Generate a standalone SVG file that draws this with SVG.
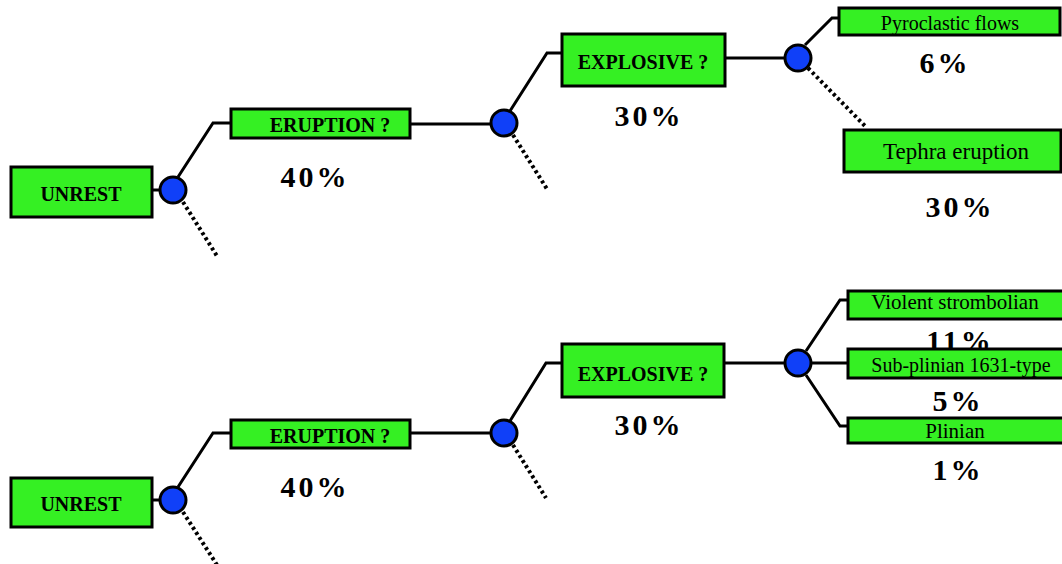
<svg xmlns="http://www.w3.org/2000/svg" width="1062" height="564" viewBox="0 0 1062 564">
  <style>
    .box { fill: #35f023; stroke: #000; stroke-width: 3; }
    .chance { fill: #1040f8; stroke: #000; stroke-width: 3; }
    .link { fill: none; stroke: #000; stroke-width: 3; }
    .other { fill: none; stroke: #000; stroke-width: 4; stroke-dasharray: 3 3; }
    .cap { font-family: "Liberation Serif", "Times New Roman", serif; font-weight: bold; font-size: 20px; text-anchor: middle; fill: #000; }
    .lbl { font-family: "Liberation Serif", "Times New Roman", serif; font-size: 20px; text-anchor: middle; fill: #000; }
    .pct { font-family: "Liberation Serif", "Times New Roman", serif; font-weight: bold; font-size: 30px; text-anchor: middle; fill: #000; letter-spacing: 3px; }
  </style>
  <rect width="1062" height="564" fill="#fff"/>

  <!-- connectors -->
  <g id="connectors">
    <!-- upper tree -->
    <path class="link" d="M152 190 H162"/>
    <path class="link" d="M178 177 L213 123 H231"/>
    <path class="other" d="M183 202 L217 256"/>
    <path class="link" d="M410 124 H492"/>
    <path class="link" d="M510 111 L547 53 H562"/>
    <path class="other" d="M513 135 L547 189"/>
    <path class="link" d="M725 58 H786"/>
    <path class="link" d="M805 45 L832 18 H839"/>
    <path class="other" d="M808 68 L866 127"/>
    <!-- lower tree -->
    <path class="link" d="M152 500 H162"/>
    <path class="link" d="M178 487 L213 433 H231"/>
    <path class="other" d="M183 512 L217 565"/>
    <path class="link" d="M410 433 H492"/>
    <path class="link" d="M510 421 L546 363 H562"/>
    <path class="other" d="M513 445 L546 498"/>
    <path class="link" d="M724 363 H786"/>
    <path class="link" d="M806 351 L840 300 H848"/>
    <path class="link" d="M810 363 H848"/>
    <path class="link" d="M806 375 L840 426 H848"/>
  </g>

  <!-- upper tree nodes -->
  <g id="unrest-a">
    <rect class="box" x="11" y="167" width="141" height="50"/>
    <text class="cap" x="81" y="201">UNREST</text>
  </g>
  <g id="chance-a1"><circle class="chance" cx="173" cy="190" r="13"/></g>
  <g id="eruption-a">
    <rect class="box" x="231" y="109" width="179" height="29"/>
    <text class="cap" x="330" y="132">ERUPTION ?</text>
    <text class="pct" x="315" y="187">40%</text>
  </g>
  <g id="chance-a2"><circle class="chance" cx="504" cy="123" r="13"/></g>
  <g id="explosive-a">
    <rect class="box" x="562" y="34" width="163" height="52"/>
    <text class="cap" x="643" y="69">EXPLOSIVE ?</text>
    <text class="pct" x="649" y="126">30%</text>
  </g>
  <g id="chance-a3"><circle class="chance" cx="798" cy="58" r="13"/></g>
  <g id="pyroclastic">
    <rect class="box" x="839" y="8" width="221" height="27"/>
    <text class="lbl" x="950" y="30">Pyroclastic flows</text>
    <text class="pct" x="945" y="73">6%</text>
  </g>
  <g id="tephra">
    <rect class="box" x="844" y="130" width="217" height="42"/>
    <text class="lbl" x="956" y="159" style="font-size:23px">Tephra eruption</text>
    <text class="pct" x="960" y="217">30%</text>
  </g>

  <!-- lower tree nodes -->
  <g id="unrest-b">
    <rect class="box" x="11" y="478" width="141" height="49"/>
    <text class="cap" x="81" y="511">UNREST</text>
  </g>
  <g id="chance-b1"><circle class="chance" cx="173" cy="500" r="13"/></g>
  <g id="eruption-b">
    <rect class="box" x="231" y="420" width="179" height="28"/>
    <text class="cap" x="330" y="443">ERUPTION ?</text>
    <text class="pct" x="315" y="497">40%</text>
  </g>
  <g id="chance-b2"><circle class="chance" cx="504" cy="433" r="13"/></g>
  <g id="explosive-b">
    <rect class="box" x="562" y="344" width="162" height="53"/>
    <text class="cap" x="643" y="381">EXPLOSIVE ?</text>
    <text class="pct" x="649" y="435">30%</text>
  </g>
  <g id="chance-b3"><circle class="chance" cx="798" cy="363" r="13"/></g>
  <g id="strombolian">
    <text class="pct" x="960" y="351">11%</text>
    <rect class="box" x="848" y="291" width="220" height="28"/>
    <text class="lbl" x="955" y="309" style="font-size:21px">Violent strombolian</text>
  </g>
  <g id="subplinian">
    <rect class="box" x="848" y="349" width="220" height="29"/>
    <text class="lbl" x="961" y="372">Sub-plinian 1631-type</text>
    <text class="pct" x="958" y="411">5%</text>
  </g>
  <g id="plinian">
    <rect class="box" x="848" y="418" width="220" height="25"/>
    <text class="lbl" x="955" y="438" style="font-size:21px">Plinian</text>
    <text class="pct" x="958" y="480">1%</text>
  </g>
</svg>
